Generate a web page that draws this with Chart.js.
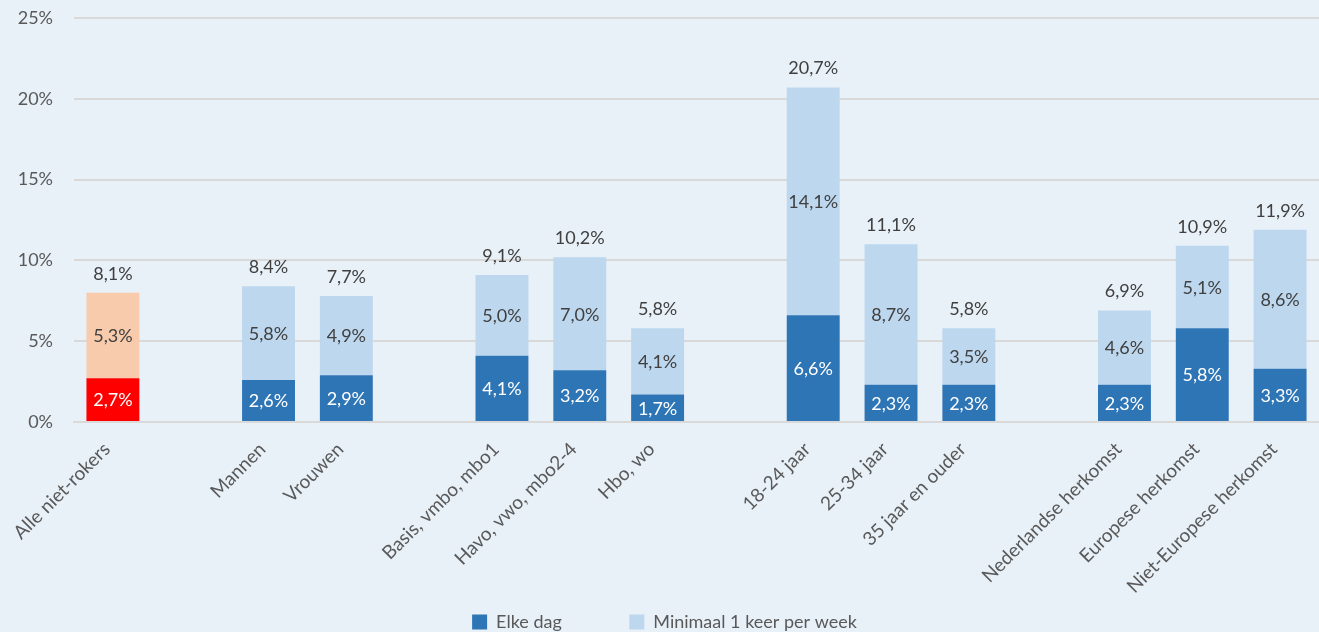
<!DOCTYPE html>
<html>
<head>
<meta charset="utf-8">
<script src="https://cdn.jsdelivr.net/npm/chart.js@4/dist/chart.umd.min.js"></script>
<style>
  html, body { margin: 0; padding: 0; background: #E8F0F8; }
  #wrap { width: 1319px; height: 632px; }
</style>
</head>
<body>
<div id="wrap"><canvas id="chart" width="1319" height="632"></canvas></div>
<script>
// empty strings are the gaps between the groups
const categories = ['Alle niet-rokers', '', 'Mannen', 'Vrouwen', '', 'Basis, vmbo, mbo1', 'Havo, vwo, mbo2-4', 'Hbo, wo', '',
  '18-24 jaar', '25-34 jaar', '35 jaar en ouder', '', 'Nederlandse herkomst', 'Europese herkomst', 'Niet-Europese herkomst'];
const elkeDag = [2.7, null, 2.6, 2.9, null, 4.1, 3.2, 1.7, null, 6.6, 2.3, 2.3, null, 2.3, 5.8, 3.3];
const perWeek = [5.3, null, 5.8, 4.9, null, 5.0, 7.0, 4.1, null, 14.1, 8.7, 3.5, null, 4.6, 5.1, 8.6];
const totals = [8.1, null, 8.4, 7.7, null, 9.1, 10.2, 5.8, null, 20.7, 11.1, 5.8, null, 6.9, 10.9, 11.9];
const yTicks = [0, 5, 10, 15, 20, 25];

const FONT = "Lato, 'Open Sans', sans-serif";
const fmt = v => v.toFixed(1).replace('.', ',') + '%';

const darkCol = categories.map((c, i) => i === 0 ? '#FF0000' : '#2E75B6');
const lightCol = categories.map((c, i) => i === 0 ? '#F8CBAD' : '#BDD7EE');

const labelPlugin = {
  id: 'barLabels',
  afterLayout(chart) {
    // nudge the legend a little lower/right, like the original
    const lg = chart.legend;
    lg.top += 9; lg.bottom += 9;
    lg.left += 5; lg.right += 5;
  },
  afterDatasetsDraw(chart) {
    const ctx = chart.ctx;
    ctx.save();
    ctx.font = '18px ' + FONT;
    ctx.textAlign = 'center';
    ctx.textBaseline = 'middle';
    chart.data.datasets.forEach((ds, di) => {
      const meta = chart.getDatasetMeta(di);
      meta.data.forEach((bar, i) => {
        const v = ds.data[i];
        if (v == null) return;
        ctx.fillStyle = di === 0 ? '#FFFFFF' : '#404040';
        ctx.fillText(fmt(v), bar.x, (bar.y + bar.base) / 2 + 1);
        if (di === 1 && totals[i] != null) {
          ctx.fillStyle = '#404040';
          ctx.fillText(fmt(totals[i]), bar.x, bar.y - 19);
        }
      });
    });
    ctx.restore();
  }
};

new Chart(document.getElementById('chart'), {
  type: 'bar',
  data: {
    labels: categories,
    datasets: [
      { label: 'Elke dag', data: elkeDag, backgroundColor: darkCol, categoryPercentage: 1, barPercentage: 0.68 },
      { label: 'Minimaal 1 keer per week', data: perWeek, backgroundColor: lightCol, categoryPercentage: 1, barPercentage: 0.68 }
    ]
  },
  options: {
    responsive: false,
    animation: false,
    layout: { padding: { top: 18, right: 0, left: 0, bottom: 0 } },
    plugins: {
      tooltip: { enabled: false },
      legend: {
        position: 'bottom',
        labels: {
          color: '#595959',
          font: { family: FONT, size: 18 },
          boxWidth: 15,
          boxHeight: 15,
          padding: 0,
          generateLabels: chart => chart.data.datasets.map((ds, i) => ({
            // trailing spaces widen the first item to match the gap between the legend entries
            text: i === 0 ? ds.label + '\u2003\u2003\u2003\u2003\u2003' : ds.label,
            fillStyle: i === 0 ? '#2E75B6' : '#BDD7EE',
            strokeStyle: 'transparent',
            lineWidth: 0,
            datasetIndex: i,
            fontColor: '#595959'
          }))
        }
      }
    },
    scales: {
      x: {
        stacked: true,
        grid: { display: false },
        border: { color: '#D9D9D9', width: 2 },
        ticks: {
          color: '#595959',
          font: { family: FONT, size: 19 },
          autoSkip: false,
          maxRotation: 45,
          minRotation: 45,
          padding: 8,
          labelOffset: -6
        },
        afterFit: s => { s.paddingLeft = 0; s.paddingRight = 0; s.height = 182; }
      },
      y: {
        stacked: true,
        min: 0,
        max: 25,
        afterBuildTicks: axis => { axis.ticks = yTicks.map(v => ({ value: v })); },
        grid: { color: '#D9D9D9', lineWidth: 2, drawTicks: false },
        border: { display: false },
        ticks: {
          color: '#595959',
          font: { family: FONT, size: 18 },
          padding: 21,
          callback: v => v + '%'
        },
        afterFit: s => { s.paddingTop = 0; s.paddingBottom = 0; s.width = 74; }
      }
    }
  },
  plugins: [labelPlugin]
});
</script>
</body>
</html>
